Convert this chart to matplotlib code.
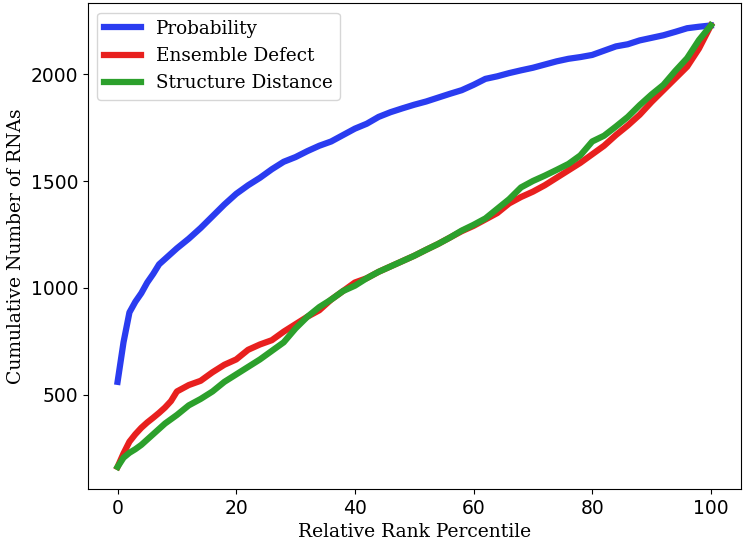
import matplotlib
matplotlib.use("Agg")
import matplotlib.pyplot as plt

percentile = [0, 1, 2, 3, 4, 5, 6, 7, 8, 9, 10, 12, 14, 16, 18, 20, 22, 24, 26, 28, 30, 32,
              34, 36, 38, 40, 42, 44, 46, 48, 50, 52, 54, 56, 58, 60, 62, 64, 66, 68, 70,
              72, 74, 76, 78, 80, 82, 84, 86, 88, 90, 92, 94, 96, 98, 100]

probability = [560, 745, 885, 935, 975, 1025, 1065, 1110, 1135, 1160, 1185, 1230, 1280,
               1335, 1390, 1440, 1480, 1515, 1555, 1590, 1612, 1640, 1665, 1685, 1715,
               1745, 1768, 1800, 1822, 1840, 1857, 1872, 1890, 1908, 1925, 1950, 1978,
               1990, 2005, 2018, 2030, 2045, 2060, 2072, 2080, 2090, 2110, 2130, 2140,
               2158, 2170, 2182, 2198, 2215, 2222, 2228]

ensemble_defect = [162, 225, 280, 315, 345, 370, 392, 415, 440, 470, 515, 545, 565, 605,
                   640, 665, 710, 735, 755, 795, 830, 865, 895, 945, 985, 1025, 1045, 1075,
                   1100, 1125, 1150, 1178, 1205, 1235, 1265, 1290, 1320, 1350, 1395, 1425,
                   1450, 1480, 1515, 1550, 1585, 1625, 1665, 1715, 1760, 1810, 1870, 1925,
                   1980, 2035, 2120, 2228]

structure_distance = [162, 205, 228, 245, 265, 290, 315, 340, 365, 385, 405, 450, 480, 515,
                      560, 595, 630, 665, 705, 745, 810, 865, 910, 945, 985, 1010, 1045,
                      1075, 1100, 1125, 1150, 1178, 1205, 1235, 1268, 1295, 1325, 1370,
                      1415, 1470, 1500, 1525, 1552, 1580, 1620, 1685, 1712, 1755, 1800,
                      1855, 1905, 1950, 2015, 2075, 2160, 2228]

labels = ["Probability", "Ensemble Defect", "Structure Distance"]
colors = ["#2a3cf0", "#e8201e", "#2ca02c"]

fig = plt.figure(figsize=(7.45, 5.45), dpi=100)
ax = fig.add_axes([0.118, 0.1028, 0.876, 0.891])

for series, lab, col in zip([probability, ensemble_defect, structure_distance], labels, colors):
    ax.plot(percentile, series, color=col, lw=4.5, label=lab)

ax.tick_params(labelsize=13.5)
ax.set_xlabel("Relative Rank Percentile", family="DejaVu Serif", fontsize=13.5)
ax.set_ylabel("Cumulative Number of RNAs", family="DejaVu Serif", fontsize=13.5)
ax.legend(loc="upper left", prop={"family": "DejaVu Serif", "size": 13.2})

fig.savefig("out.png", dpi=100)
